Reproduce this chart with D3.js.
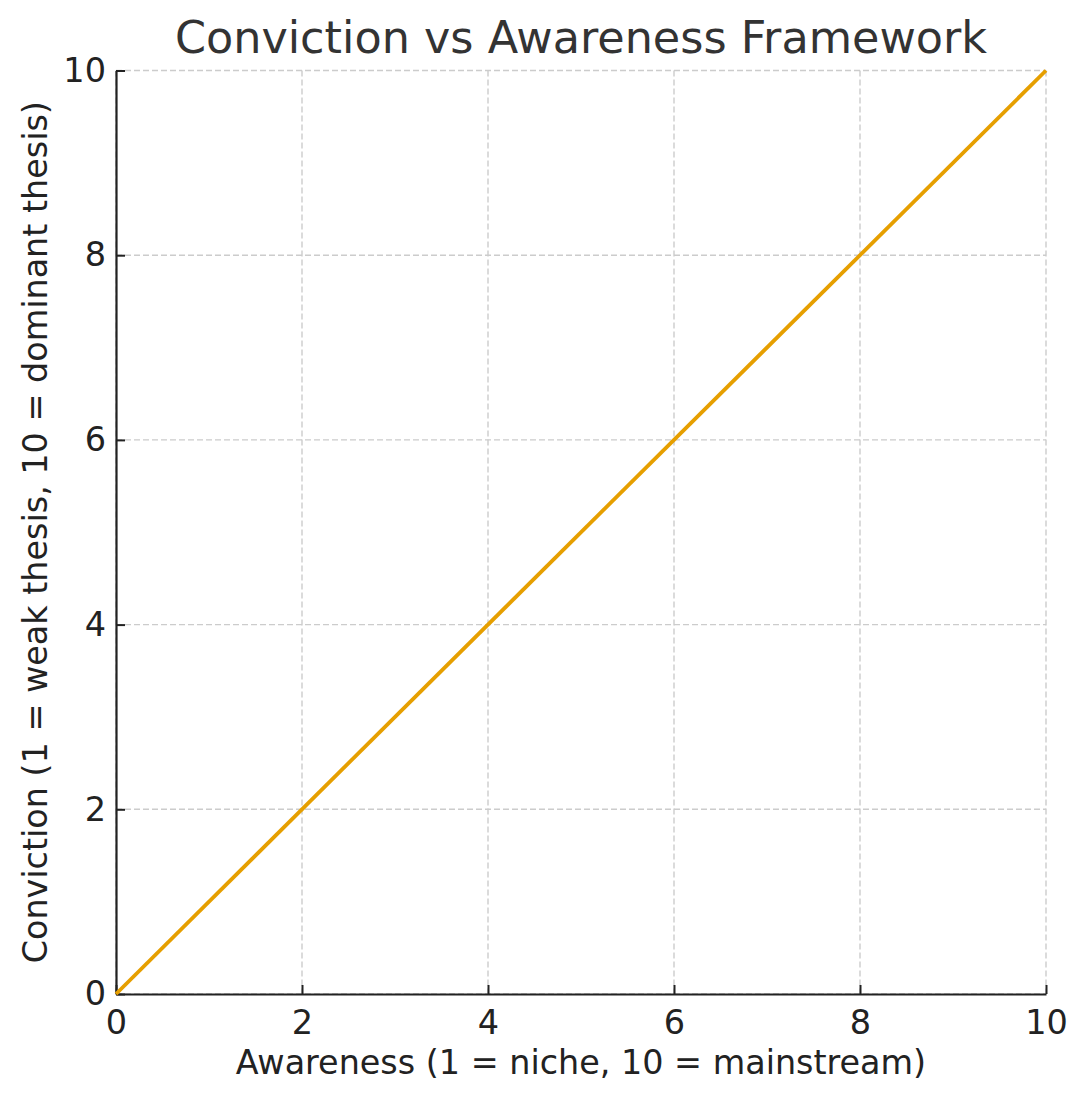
<!DOCTYPE html>
<html><head><meta charset="utf-8">
<script src="https://cdn.jsdelivr.net/npm/d3@7"></script>
<style>body{margin:0;background:#fff}svg{display:block}</style>
</head><body><svg id="c" width="1087" height="1101"></svg>
<script>
const awareness = [0, 10];
const conviction = [0, 10];
const xTicks = [0, 2, 4, 6, 8, 10];
const yTicks = [0, 2, 4, 6, 8, 10];
const titleText = "Conviction vs Awareness Framework";
const xLabel = "Awareness (1 = niche, 10 = mainstream)";
const yLabel = "Conviction (1 = weak thesis, 10 = dominant thesis)";

const svg = d3.select("#c");
const L = 116, R = 1046, T = 70.5, B = 994;
const x = d3.scaleLinear().domain([0, 10]).range([L, R]);
const y = d3.scaleLinear().domain([0, 10]).range([B, T]);
const font = "DejaVu Sans, sans-serif";

// grid
const g = svg.append("g");
g.selectAll(".gx").data(xTicks).join("line")
  .attr("x1", d => x(d)).attr("x2", d => x(d)).attr("y1", T).attr("y2", B)
  .attr("stroke", "#cccccc").attr("stroke-width", 1.4).attr("stroke-dasharray", "6,3");
g.selectAll(".gy").data(yTicks).join("line")
  .attr("y1", d => y(d)).attr("y2", d => y(d)).attr("x1", L).attr("x2", R)
  .attr("stroke", "#cccccc").attr("stroke-width", 1.4).attr("stroke-dasharray", "6,3");

// axes
const xAxis = d3.axisBottom(x).tickValues(xTicks).tickSizeInner(-9).tickSizeOuter(0).tickPadding(16).tickFormat(d3.format("d"));
const yAxis = d3.axisLeft(y).tickValues(yTicks).tickSizeInner(-9).tickSizeOuter(0).tickPadding(10).tickFormat(d3.format("d"));
const ax = svg.append("g").attr("transform", `translate(0,${B})`).call(xAxis);
const ay = svg.append("g").attr("transform", `translate(${L},0)`).call(yAxis);
[ax, ay].forEach(a => {
  a.select(".domain").attr("stroke", "#222").attr("stroke-width", 2.2);
  a.selectAll(".tick line").attr("stroke", "#222").attr("stroke-width", 2);
  a.selectAll(".tick text").attr("fill", "#222").attr("font-family", font).attr("font-size", 33.5);
});
ax.selectAll(".tick text").attr("dy", "0.71em");

// line
const data = awareness.map((a, i) => ({a, c: conviction[i]}));
svg.append("path").datum(data)
  .attr("d", d3.line().x(d => x(d.a)).y(d => y(d.c)))
  .attr("fill", "none").attr("stroke", "#E69F00").attr("stroke-width", 3.8);

// labels
svg.append("text").attr("x", (L + R) / 2).attr("y", 53).attr("text-anchor", "middle")
  .attr("font-family", font).attr("font-size", 44.5).attr("fill", "#333").text(titleText);
svg.append("text").attr("x", (L + R) / 2).attr("y", 1074).attr("text-anchor", "middle")
  .attr("font-family", font).attr("font-size", 33.4).attr("fill", "#222").text(xLabel);
svg.append("text").attr("transform", `translate(47,${(T + B) / 2}) rotate(-90)`).attr("text-anchor", "middle")
  .attr("font-family", font).attr("font-size", 33.4).attr("fill", "#222").text(yLabel);
</script></body></html>
